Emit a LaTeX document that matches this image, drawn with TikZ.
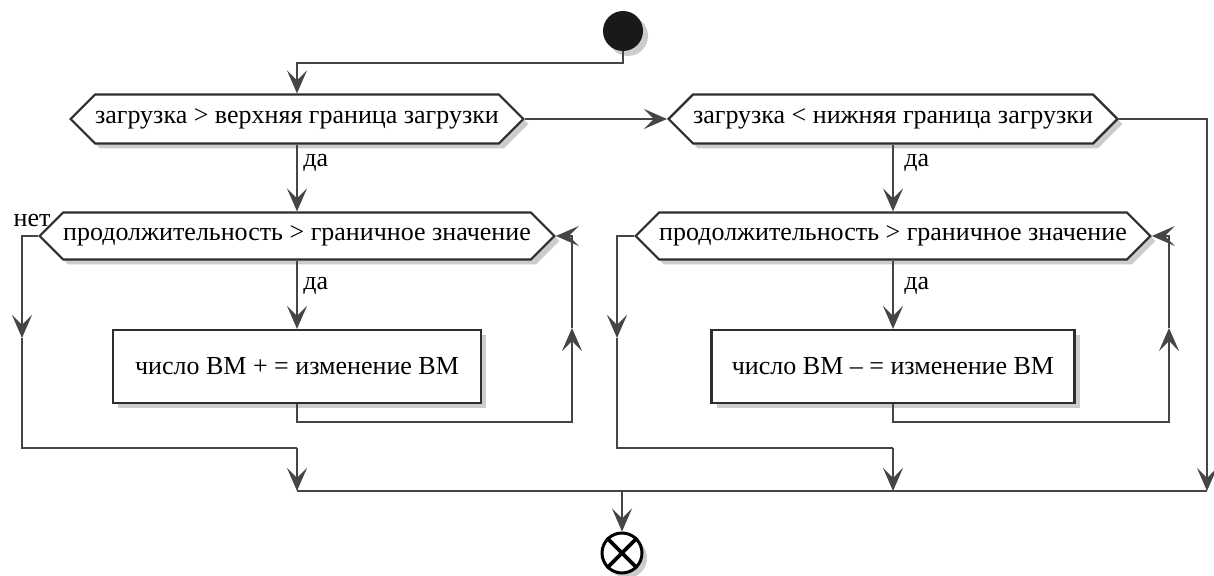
\documentclass[tikz,border=0pt]{standalone}
\usepackage{fontspec}
\setmainfont{Liberation Serif}
\newfontfamily\tnr{Liberation Serif}
\usetikzlibrary{shapes.symbols,shadows,arrows.meta,calc}
\definecolor{ln}{HTML}{454545}
\definecolor{bd}{HTML}{2E2E2E}
\begin{document}
\begin{tikzpicture}[x=0.5pt,y=-0.5pt,
  font=\tnr\fontsize{13}{15}\selectfont,
  line/.style={draw=ln, line width=1.1pt},
  arr/.style={line, -{Stealth[length=11.5pt,width=10pt,inset=5pt]}},
  shad/.style={drop shadow={shadow xshift=2.5pt,shadow yshift=-2.5pt,fill=black!40}},
  hexa/.style={signal, signal to=west and east, signal pointer angle=90, draw=bd, line width=1.1pt, fill=white, inner sep=0pt, shad},
  boxa/.style={rectangle, draw=bd, line width=1.1pt, fill=white, minimum width=184pt, minimum height=36.5pt, inner sep=0pt, shad},
  lab/.style={anchor=base west, inner sep=0pt}]
\useasboundingbox (0,0) rectangle (1214,576);
% nodes
\node[circle, fill=black!90, minimum size=20pt, inner sep=0pt, shad] (s) at (623,31) {};
\node[hexa, minimum width=222pt, minimum height=24.5pt] (h1) at (297,119) {загрузка > верхняя граница загрузки};
\node[hexa, minimum width=215.5pt, minimum height=24.5pt] (h2) at (893,119) {загрузка < нижняя граница загрузки};
\node[hexa, minimum width=251pt, minimum height=23.5pt] (h3) at (297,236) {продолжительность > граничное значение};
\node[hexa, minimum width=252pt, minimum height=23.5pt] (h4) at (893,236) {продолжительность > граничное значение};
\node[boxa] (b1) at (297,366.5) {число ВМ + = изменение ВМ};
\node[boxa, minimum width=181.5pt] (b2) at (893,366.5) {число ВМ – = изменение ВМ};
\node[circle, draw=black, line width=1.5pt, fill=white, minimum size=20pt, inner sep=0pt, shad] (e) at (622,553) {};
\draw[black, line width=1.8pt] (e.north west) -- (e.south east) (e.north east) -- (e.south west);
% labels
\node[lab] (t1) at (303,167) {да};
\node[lab] (t2) at (904,167) {да};
\node[lab] (t3) at (303,290) {да};
\node[lab] (t4) at (904,290) {да};
\node[anchor=base, inner sep=0pt] (t5) at (32,227) {нет};
% coordinates
\coordinate (s1) at (297,63);
\coordinate (c1a) at (572,422);
\coordinate (c1m) at (572,328);
\coordinate (l1m) at (22,338);
\coordinate (j1) at (297,448);
\coordinate (m1) at (297,491);
\coordinate (c2a) at (1169,422);
\coordinate (c2m) at (1169,328);
\coordinate (l2m) at (617,338);
\coordinate (j2) at (893,448);
\coordinate (m2) at (893,491);
\coordinate (r1) at (1207,119);
\coordinate (m3) at (1207,491);
\coordinate (m0) at (622,491);
% connectors
\draw[arr] (s.south) |- (s1) -- (h1.north);
\draw[arr] (h1.east) -- (h2.west);
\draw[arr] (h1.south) -- (h3.north);
\draw[arr] (h2.south) -- (h4.north);
\draw[arr] (h2.east) -- (r1) -- (m3);
\draw[arr] (h3.south) -- (b1.north);
\draw[arr] (h4.south) -- (b2.north);
\draw[arr] (b1.south) -- (b1.south |- c1a) -- (c1a) -- (c1m);
\draw[arr] (c1m) |- (h3.east);
\draw[arr] (b2.south) -- (b2.south |- c2a) -- (c2a) -- (c2m);
\draw[arr] (c2m) |- (h4.east);
\draw[arr] (h3.west) -| (l1m);
\draw[line] (l1m) |- (j1);
\draw[arr] (j1) -- (m1);
\draw[arr] (h4.west) -| (l2m);
\draw[line] (l2m) |- (j2);
\draw[arr] (j2) -- (m2);
\draw[line] (m1) -- (m3);
\draw[arr] (m0) -- (e.north);
\end{tikzpicture}
\end{document}
